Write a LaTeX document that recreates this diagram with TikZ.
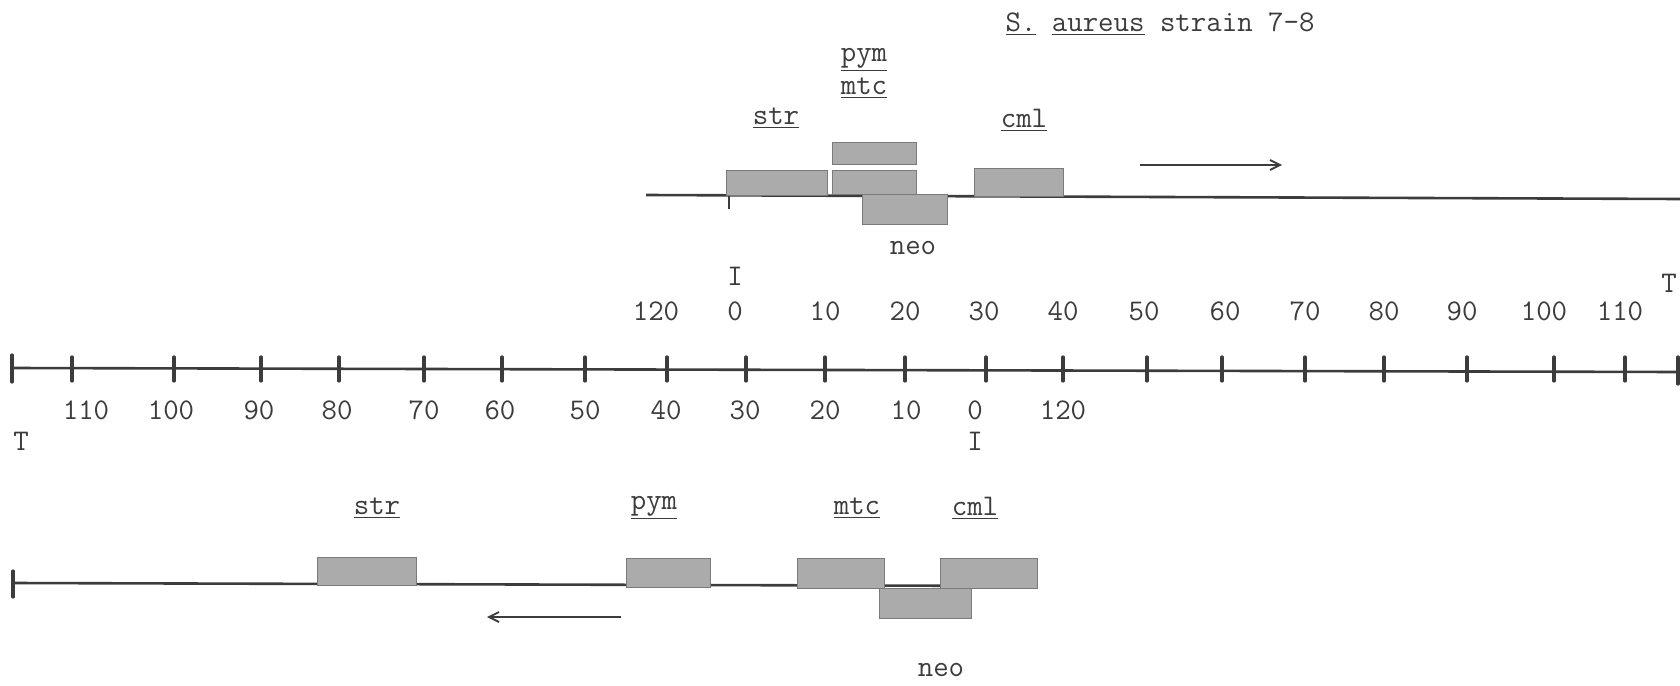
\documentclass[tikz,border=0pt]{standalone}
\usepackage{xcolor}
\usepackage{tikz}
\usetikzlibrary{arrows.meta,positioning}
\definecolor{genegray}{HTML}{ABABAB}
\definecolor{geneedge}{HTML}{7A7A7A}
\definecolor{inkgray}{HTML}{3C3C3C}

\begin{document}
\begin{tikzpicture}[x=0.5pt,y=-0.5pt,>={Straight Barb[length=5pt,width=5pt]},
  font=\ttfamily\fontsize{15}{18}\selectfont,text=inkgray,
  gene/.style={draw=geneedge,fill=genegray,line width=0.5pt,inner sep=0pt},
  chrom/.style={line width=1.3pt,inkgray},
  tickmark/.style={line width=1.6pt,inkgray,line cap=round}]
  \useasboundingbox (0,0) rectangle (1680,685);
  \node (title) at (1160,24) {\underline{S.} \underline{aureus} strain 7-8};
  \coordinate (topL) at (646,195);
  \coordinate (topR) at (1680,199);
  \draw[chrom] (topL) -- (topR);
  \draw[line width=1pt,inkgray] (729,195) -- (729,209);
  \node[gene,minimum width=50.5pt,minimum height=12.5pt] (strA) at (776.5,182.5) {};
  \node[gene,minimum width=42pt,minimum height=11pt] (pymA) at (874,153) {};
  \node[gene,minimum width=42.5pt,minimum height=15pt] (neoA) at (904.5,209) {};
  \node[gene,minimum width=42pt,minimum height=12pt] (mtcA) at (874,182) {};
  \node[gene,minimum width=44.5pt,minimum height=14pt] (cmlA) at (1018.5,182) {};
  \node (strAl) at (776,118) {\underline{str}};
  \node (pymAl) at (864,60) {\underline{pym}};
  \node (mtcAl) at (864,88) {\underline{mtc}};
  \node (cmlAl) at (1024,120) {\underline{cml}};
  \node (neoAl) at (913,248) {neo};
  \coordinate (arrA1) at (1140,165);
  \coordinate (arrA2) at (1282,165);
  \draw[->,line width=0.9pt,inkgray] (arrA1) -- (arrA2);
  \coordinate (axL) at (12,368);
  \coordinate (axR) at (1680,372);
  \draw[chrom] (axL) -- (axR);
  \foreach \x in {72,174,261,339,424,502,585,667,746,825,905,986,1063,1147,1222,1305,1384,1467,1554,1625}
    \draw[tickmark] (\x,357) -- (\x,381);
  \draw[tickmark] (12,355) -- (12,382);
  \draw[tickmark] (1678,357) -- (1678,384);
  \foreach \x/\t in {656/120,735/0,825/10,905/20,984/30,1063/40,1144/50,1225/60,1305/70,1384/80,1462/90,1544/100,1620/110}
    \node (up\t) at (\x,311) {\t};
  \foreach \x/\t in {86/110,171/100,259/90,337/80,424/70,500/60,585/50,666/40,745/30,825/20,906/10,975/0,1063/120}
    \node (lo\t) at (\x,410) {\t};
  \node (Iup) at (735,276) {I};
  \node (Tup) at (1669,283) {T};
  \node (Ilo) at (975,441) {I};
  \node (Tlo) at (21,441) {T};
  \coordinate (botL) at (13,583);
  \coordinate (botR) at (1037,586);
  \draw[chrom] (botL) -- (botR);
  \draw[tickmark] (13,571) -- (13,597);
  \node[gene,minimum width=49.5pt,minimum height=14pt] (strB) at (366.5,571) {};
  \node[gene,minimum width=42pt,minimum height=14.5pt] (pymB) at (668,572.5) {};
  \node[gene,minimum width=46pt,minimum height=15pt] (neoB) at (925,603) {};
  \node[gene,minimum width=43.5pt,minimum height=15pt] (mtcB) at (840.5,573) {};
  \node[gene,minimum width=48.5pt,minimum height=15pt] (cmlB) at (988.5,573) {};
  \node (strBl) at (377,508) {\underline{str}};
  \node (pymBl) at (654,508) {\underline{pym}};
  \node (mtcBl) at (857,508) {\underline{mtc}};
  \node (cmlBl) at (975,508) {\underline{cml}};
  \node (neoBl) at (941,670) {neo};
  \coordinate (arrB1) at (621,617);
  \coordinate (arrB2) at (487,617);
  \draw[->,line width=0.9pt,inkgray] (arrB1) -- (arrB2);
\end{tikzpicture}
\end{document}
